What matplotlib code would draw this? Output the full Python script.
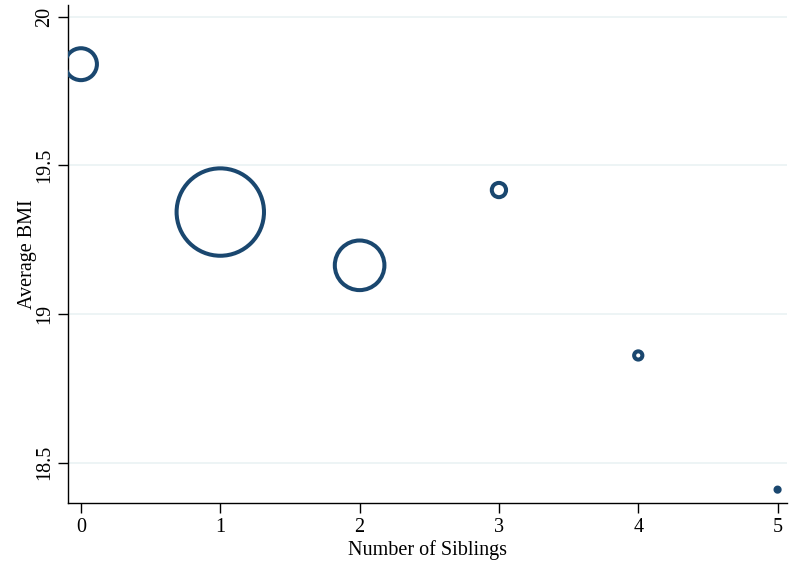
import matplotlib
matplotlib.use("Agg")
import matplotlib.pyplot as plt

# mean BMI by number of siblings, bubble weight = number of respondents
siblings = [0, 1, 2, 3, 4, 5]
avg_bmi = [19.84, 19.343, 19.164, 19.417, 18.861, 18.41]
n_obs = [120, 900, 290, 24, 8, 2]

x_ticks = [0, 1, 2, 3, 4, 5]
y_ticks = [18.5, 19, 19.5, 20]
y_labels = ["18.5", "19", "19.5", "20"]

navy = "#1a476f"
plt.rcParams["font.family"] = ["Liberation Serif", "DejaVu Serif"]

fig = plt.figure(figsize=(7.89, 5.65), dpi=100)
ax = fig.add_axes([0.0862, 0.1097, 0.9108, 0.882])

sizes = [n * 4.4 for n in n_obs]
ax.scatter(siblings, avg_bmi, s=sizes, facecolors="none", edgecolors=navy,
           linewidths=2.9, zorder=3)

ax.set_xlim(-0.093, 5.065)
ax.set_ylim(18.365, 20.04)
ax.set_xticks(x_ticks)
ax.set_yticks(y_ticks)
ax.set_yticklabels(y_labels, rotation=90, va="center")
ax.yaxis.grid(True, color="#eaf2f3", linewidth=1.2)
ax.set_axisbelow(True)

for side in ["top", "right"]:
    ax.spines[side].set_visible(False)
for side in ["left", "bottom"]:
    ax.spines[side].set_linewidth(1.0)

ax.tick_params(axis="both", length=7, width=1, labelsize=14.5, pad=4)
ax.tick_params(axis="y", pad=3)
ax.set_xlabel("Number of Siblings", fontsize=14.5, labelpad=2)
ax.set_ylabel("Average BMI", fontsize=14.5, labelpad=-1)

fig.savefig("out.png", dpi=100)
